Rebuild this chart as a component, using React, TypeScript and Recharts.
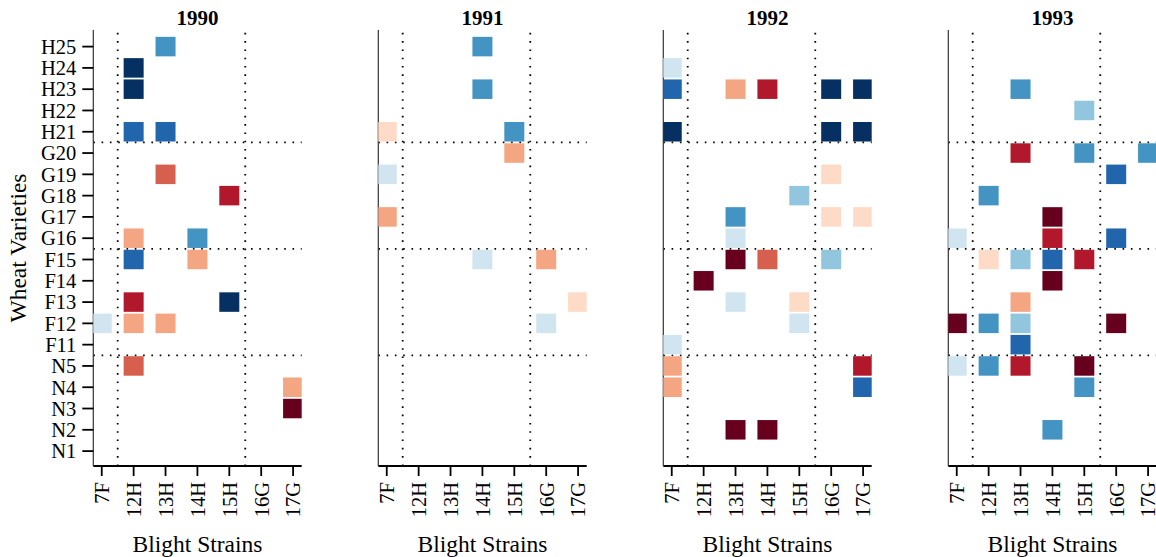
import React from "react";
import { ReferenceLine, Scatter, ScatterChart, XAxis, YAxis } from "recharts";

const FONT = '"Liberation Serif", "Times New Roman", serif';

const strains = ["7F", "12H", "13H", "14H", "15H", "16G", "17G"];
const varieties = [
  "N1", "N2", "N3", "N4", "N5",
  "F11", "F12", "F13", "F14", "F15",
  "G16", "G17", "G18", "G19", "G20",
  "H21", "H22", "H23", "H24", "H25",
];
const years = ["1990", "1991", "1992", "1993"];

// RdBu, from strong blue (-5) to strong red (+5)
const rdbu = [
  "#053061", "#2166ac", "#4393c3", "#92c5de", "#d1e5f0",
  "#fddbc7", "#f4a582", "#d6604d", "#b2182b", "#67001f",
];

type Cell = [string, string, number];

const cells1990: Cell[] = [
  ["H25", "13H", -3], ["H24", "12H", -5], ["H23", "12H", -5], ["H21", "12H", -4], ["H21", "13H", -4],
  ["G19", "13H", 3], ["G18", "15H", 4], ["G16", "12H", 2], ["G16", "14H", -3],
  ["F15", "12H", -4], ["F15", "14H", 2], ["F13", "12H", 4], ["F13", "15H", -5],
  ["F12", "7F", -1], ["F12", "12H", 2], ["F12", "13H", 2],
  ["N5", "12H", 3], ["N4", "17G", 2], ["N3", "17G", 5],
];

const cells1991: Cell[] = [
  ["H25", "14H", -3], ["H23", "14H", -3], ["H21", "7F", 1], ["H21", "15H", -3],
  ["G20", "15H", 2], ["G19", "7F", -1], ["G17", "7F", 2],
  ["F15", "14H", -1], ["F15", "16G", 2], ["F13", "17G", 1], ["F12", "16G", -1],
];

const cells1992: Cell[] = [
  ["H24", "7F", -1], ["H23", "7F", -4], ["H23", "13H", 2], ["H23", "14H", 4], ["H23", "16G", -5], ["H23", "17G", -5],
  ["H21", "7F", -5], ["H21", "16G", -5], ["H21", "17G", -5],
  ["G19", "16G", 1], ["G18", "15H", -2], ["G17", "13H", -3], ["G17", "16G", 1], ["G17", "17G", 1], ["G16", "13H", -1],
  ["F15", "13H", 5], ["F15", "14H", 3], ["F15", "16G", -2], ["F14", "12H", 5],
  ["F13", "13H", -1], ["F13", "15H", 1], ["F12", "15H", -1], ["F11", "7F", -1],
  ["N5", "7F", 2], ["N5", "17G", 4], ["N4", "7F", 2], ["N4", "17G", -4],
  ["N2", "13H", 5], ["N2", "14H", 5],
];

const cells1993: Cell[] = [
  ["H23", "13H", -3], ["H22", "15H", -2],
  ["G20", "13H", 4], ["G20", "15H", -3], ["G20", "17G", -3], ["G19", "16G", -4], ["G18", "12H", -3],
  ["G17", "14H", 5], ["G16", "7F", -1], ["G16", "14H", 4], ["G16", "16G", -4],
  ["F15", "12H", 1], ["F15", "13H", -2], ["F15", "14H", -4], ["F15", "15H", 4], ["F14", "14H", 5],
  ["F13", "13H", 2], ["F12", "7F", 5], ["F12", "12H", -3], ["F12", "13H", -2], ["F12", "16G", 5],
  ["F11", "13H", -4],
  ["N5", "7F", -1], ["N5", "12H", -3], ["N5", "13H", 4], ["N5", "15H", 5],
  ["N4", "15H", -3], ["N2", "14H", -3],
];

const panels = [cells1990, cells1991, cells1992, cells1993];

// group separators, in index units (between strains / between variety groups)
const strainBreaks = [0.5, 4.5];
const varietyBreaks = [14.5, 9.5, 4.5];

const colorOf = (v: number) => rdbu[v < 0 ? v + 5 : v + 4];

const Square = (props: any) => {
  const { cx, cy, payload } = props;
  if (cx == null || cy == null) return null;
  return <rect x={cx - 10} y={cy - 9.75} width={20} height={19.5} fill={colorOf(payload.v)} />;
};

const StrainTick = (props: any) => {
  const { x, y, payload } = props;
  return (
    <text
      x={x}
      y={y}
      transform={`rotate(-90 ${x} ${y})`}
      textAnchor="end"
      dy="0.36em"
      fontSize={20.5}
      fontFamily={FONT}
      fill="#000"
    >
      {strains[payload.value]}
    </text>
  );
};

const PANEL_STEP = 285;
const AXIS_W = 93.3;
const PLOT_W = 208.4;
const CHART_W = 320;
const Y_DOMAIN: [number, number] = [-0.7, 19.78];

function Panel({ idx }: { idx: number }) {
  const data = panels[idx].map(([row, col, v]) => ({
    x: strains.indexOf(col),
    y: varieties.indexOf(row),
    v,
  }));
  const first = idx === 0;
  return (
    <div style={{ position: "absolute", left: idx * PANEL_STEP, top: 0 }}>
      <ScatterChart
        width={CHART_W}
        height={557}
        margin={{ top: 30, right: CHART_W - AXIS_W - PLOT_W, bottom: 26, left: 0 }}
      >
        <XAxis
          dataKey="x"
          type="number"
          domain={[-0.265, 6.27]}
          ticks={[0, 1, 2, 3, 4, 5, 6]}
          allowDataOverflow
          height={65}
          tickSize={10}
          tickMargin={6}
          tick={<StrainTick />}
          axisLine={{ stroke: "#000", strokeWidth: 1.8 }}
          tickLine={{ stroke: "#000", strokeWidth: 1.8 }}
          label={{
            value: "Blight Strains",
            position: "bottom",
            offset: 4,
            fontSize: 23.5,
            fontFamily: FONT,
            fill: "#000",
          }}
        />
        <YAxis
          dataKey="y"
          type="number"
          domain={Y_DOMAIN}
          ticks={varieties.map((_, i) => i)}
          width={AXIS_W}
          interval={0}
          tickFormatter={(i: number) => varieties[i]}
          tickSize={11}
          tickMargin={6}
          tick={first ? { fill: "#000", fontSize: 20.5, fontFamily: FONT } : false}
          tickLine={first ? { stroke: "#000", strokeWidth: 1.8 } : false}
          axisLine={{ stroke: "#333", strokeWidth: 1.2 }}
        />
        <YAxis
          yAxisId="minor"
          type="number"
          orientation="left"
          mirror
          domain={Y_DOMAIN}
          ticks={[-0.5, ...varieties.map((_, i) => i + 0.5)]}
          interval={0}
          tick={false}
          tickSize={2.2}
          axisLine={false}
          tickLine={{ stroke: "#000", strokeWidth: 1.6 }}
        />
        {strainBreaks.map((x) => (
          <ReferenceLine
            key={`vx${x}`}
            x={x}
            stroke="#000"
            strokeWidth={1.8}
            strokeDasharray="1.6 6.7"
          />
        ))}
        {varietyBreaks.map((y) => (
          <ReferenceLine
            key={`hy${y}`}
            y={y}
            stroke="#000"
            strokeWidth={1.8}
            strokeDasharray="1.6 6.7"
          />
        ))}
        <Scatter data={data} shape={<Square />} isAnimationActive={false} />
      </ScatterChart>
      <div
        style={{
          position: "absolute",
          left: AXIS_W,
          width: PLOT_W,
          top: 8,
          textAlign: "center",
          fontFamily: FONT,
          fontWeight: "bold",
          fontSize: 21,
          lineHeight: "20px",
        }}
      >
        {years[idx]}
      </div>
    </div>
  );
}

export default function App() {
  return (
    <div
      style={{
        position: "absolute",
        left: 0,
        top: 0,
        width: 1156,
        height: 557,
        overflow: "hidden",
        background: "#fff",
        fontFamily: FONT,
      }}
    >
      {years.map((_, i) => (
        <Panel key={i} idx={i} />
      ))}
      <div
        style={{
          position: "absolute",
          left: 18,
          top: 248,
          transform: "translate(-50%, -50%) rotate(-90deg)",
          whiteSpace: "nowrap",
          fontSize: 23.5,
          lineHeight: "24px",
        }}
      >
        Wheat Varieties
      </div>
    </div>
  );
}
